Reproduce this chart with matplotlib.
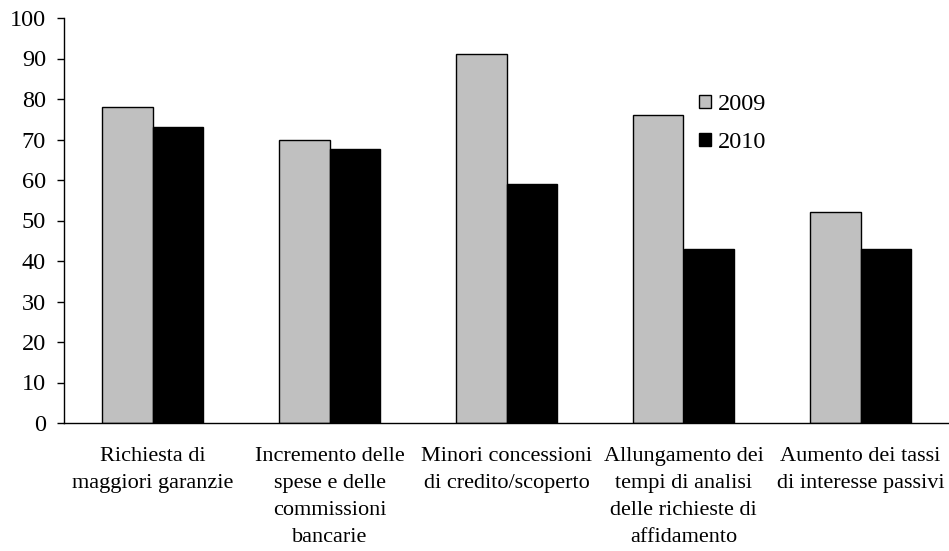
import numpy as np
from matplotlib import pyplot as plt

plt.rcParams['font.family'] = ['Liberation Serif', 'DejaVu Serif']

categorie = ["Richiesta di\nmaggiori garanzie",
             "Incremento delle\nspese e delle\ncommissioni\nbancarie",
             "Minori concessioni\ndi credito/scoperto",
             "Allungamento dei\ntempi di analisi\ndelle richieste di\naffidamento",
             "Aumento dei tassi\ndi interesse passivi"]
valori_2009 = [78, 70, 91, 76, 52]
valori_2010 = [73, 67.6, 59, 43, 43]
anni = ["2009", "2010"]

fig = plt.figure(figsize=(9.49, 5.51), dpi=100)
ax = fig.add_axes([64/949, 1-423/551, 1-64/949, (423-18)/551])

x = np.arange(len(categorie))
w = 0.288
ax.bar(x - w/2, valori_2009, w, color='#c0c0c0', edgecolor='black', linewidth=1, label=anni[0])
ax.bar(x + w/2, valori_2010, w, color='black', edgecolor='black', linewidth=1, label=anni[1])

ax.set_xlim(-0.5, len(categorie) - 0.5)
ax.set_ylim(0, 100)
ax.set_yticks(range(0, 101, 10))
ax.set_xticks(x)
ax.set_xticklabels(categorie, fontsize=16, linespacing=1.58, va='top')
ax.tick_params(axis='x', length=0, pad=17)
ax.tick_params(axis='y', length=5, width=1, pad=8, labelsize=17.5, direction='out')

for s in ['top', 'right']:
    ax.spines[s].set_visible(False)
ax.spines['left'].set_linewidth(1)
ax.spines['bottom'].set_linewidth(1)

ax.legend(loc='upper left', bbox_to_anchor=(0.717, 0.812), frameon=False, fontsize=17.5,
          handlelength=0.5, handleheight=0.5, handletextpad=0.3, labelspacing=0.7,
          borderpad=0, borderaxespad=0)

fig.savefig('out.png', dpi=100)
